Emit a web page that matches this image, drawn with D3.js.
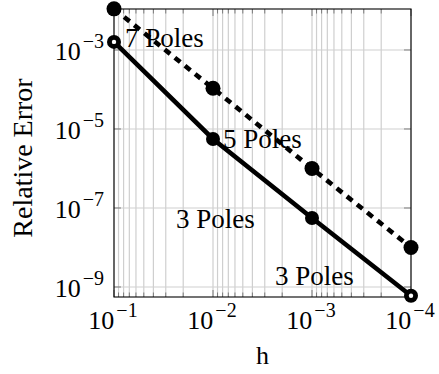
<!DOCTYPE html>
<html>
<head>
<meta charset="utf-8">
<script src="https://cdn.jsdelivr.net/npm/d3@7"></script>
<style>
  html, body { margin: 0; padding: 0; background: #fff; }
  svg { display: block; }
  text { font-family: "Liberation Serif", "DejaVu Serif", serif; fill: #000; }
</style>
</head>
<body>
<svg id="chart" width="439" height="374"></svg>
<script>
// ---- data ----
const hValues = [1e-1, 1e-2, 1e-3, 1e-4];
const errDashed = [1.1e-2, 1.07e-4, 1.0e-6, 1.0e-8];
const errSolid = [1.6e-3, 5.6e-6, 5.6e-8, 6.0e-10];
const xTickValues = [1e-1, 1e-2, 1e-3, 1e-4];
const xTickExponents = ["−1", "−2", "−3", "−4"];
const yTickValues = [1e-3, 1e-5, 1e-7, 1e-9];
const yTickExponents = ["−3", "−5", "−7", "−9"];
const annotationText = ["7 Poles", "5 Poles", "3 Poles", "3 Poles"];
const annotationH = [0.0774, 7.93e-3, 0.0237, 2.37e-3];
const annotationErr = [1.19e-3, 3.3e-6, 3.1e-8, 1.12e-9];
const xLabel = "h";
const yLabel = "Relative Error";

(function () {
// ---- layout ----
const svg = d3.select("#chart");
const pL = 114, pR = 411, pT = 9, pB = 297;

const x = d3.scaleLog().domain([1e-1, 1e-4]).range([pL, pR]);
const y = d3.scaleLog().domain([5.58e-10, 1.09e-2]).range([pB, pT]);

// minor x values
const minorX = [];
for (let e = -4; e < -1; e++) {
  for (let k = 2; k <= 9; k++) minorX.push(k * Math.pow(10, e));
}

const gridColor = "#cfcfcf";
const g = svg.append("g");

// grid
g.selectAll("line.xminor").data(minorX).enter().append("line")
  .attr("x1", d => x(d)).attr("x2", d => x(d))
  .attr("y1", pT).attr("y2", pB)
  .attr("stroke", gridColor).attr("stroke-width", 1.2);
g.selectAll("line.xmajor").data(xTickValues).enter().append("line")
  .attr("x1", d => x(d)).attr("x2", d => x(d))
  .attr("y1", pT).attr("y2", pB)
  .attr("stroke", gridColor).attr("stroke-width", 1.2);
g.selectAll("line.ymajor").data(yTickValues).enter().append("line")
  .attr("x1", pL).attr("x2", pR)
  .attr("y1", d => y(d)).attr("y2", d => y(d))
  .attr("stroke", gridColor).attr("stroke-width", 1.2);

// ticks (inside, all sides)
const tickColor = "#666";
const tickG = svg.append("g").attr("stroke", tickColor).attr("stroke-width", 0.8);
minorX.forEach(v => {
  tickG.append("line").attr("x1", x(v)).attr("x2", x(v)).attr("y1", pB).attr("y2", pB - 4.5);
  tickG.append("line").attr("x1", x(v)).attr("x2", x(v)).attr("y1", pT).attr("y2", pT + 4.5);
});
xTickValues.forEach(v => {
  tickG.append("line").attr("x1", x(v)).attr("x2", x(v)).attr("y1", pB).attr("y2", pB - 7);
  tickG.append("line").attr("x1", x(v)).attr("x2", x(v)).attr("y1", pT).attr("y2", pT + 7);
});
yTickValues.forEach(v => {
  tickG.append("line").attr("x1", pL).attr("x2", pL + 7).attr("y1", y(v)).attr("y2", y(v));
  tickG.append("line").attr("x1", pR).attr("x2", pR - 7).attr("y1", y(v)).attr("y2", y(v));
});

// axis box
svg.append("rect")
  .attr("x", pL).attr("y", pT)
  .attr("width", pR - pL).attr("height", pB - pT)
  .attr("fill", "none").attr("stroke", "#000").attr("stroke-width", 1.1);

// tick labels
const xl = svg.append("g");
xTickValues.forEach((v, i) => {
  const t = xl.append("text").attr("x", x(v) - 1).attr("y", 329)
    .attr("text-anchor", "middle").attr("font-size", 26);
  t.append("tspan").text("10");
  t.append("tspan").attr("dx", 2).attr("dy", -12).attr("font-size", 20).text(xTickExponents[i]);
});
yTickValues.forEach((v, i) => {
  const t = xl.append("text").attr("x", 104).attr("y", y(v) + 10)
    .attr("text-anchor", "end").attr("font-size", 26);
  t.append("tspan").text("10");
  t.append("tspan").attr("dx", 2).attr("dy", -12).attr("font-size", 20).text(yTickExponents[i]);
});

// axis labels
svg.append("text").attr("x", (pL + pR) / 2).attr("y", 364)
  .attr("text-anchor", "middle").attr("font-size", 26).text(xLabel);
svg.append("text")
  .attr("transform", "translate(32," + 158 + ") rotate(-90)")
  .attr("text-anchor", "middle").attr("font-size", 28).text(yLabel);

// lines
const line = d3.line().x(d => x(d[0])).y(d => y(d[1]));
const dashedData = hValues.map((h, i) => [h, errDashed[i]]);
const solidData = hValues.map((h, i) => [h, errSolid[i]]);

svg.append("path").datum(solidData).attr("d", line)
  .attr("fill", "none").attr("stroke", "#000").attr("stroke-width", 4.6);
svg.append("path").datum(dashedData).attr("d", line)
  .attr("fill", "none").attr("stroke", "#000").attr("stroke-width", 4.6)
  .attr("stroke-dasharray", "7,6");

// markers
svg.selectAll("circle.d").data(dashedData).enter().append("circle")
  .attr("cx", d => x(d[0])).attr("cy", d => y(d[1])).attr("r", 7.5).attr("fill", "#000");
svg.selectAll("circle.s").data(solidData).enter().append("circle")
  .attr("cx", d => x(d[0])).attr("cy", d => y(d[1])).attr("r", 7).attr("fill", "#000");
// white centres on end markers of solid series
svg.selectAll("circle.sc").data([solidData[0], solidData[solidData.length - 1]]).enter().append("circle")
  .attr("cx", d => x(d[0])).attr("cy", d => y(d[1])).attr("r", 2.2).attr("fill", "#fff");

// annotations
annotationText.forEach((t, i) => {
  svg.append("text").attr("x", x(annotationH[i])).attr("y", y(annotationErr[i]))
    .attr("font-size", 27).text(t);
});
})();
</script>
</body>
</html>
